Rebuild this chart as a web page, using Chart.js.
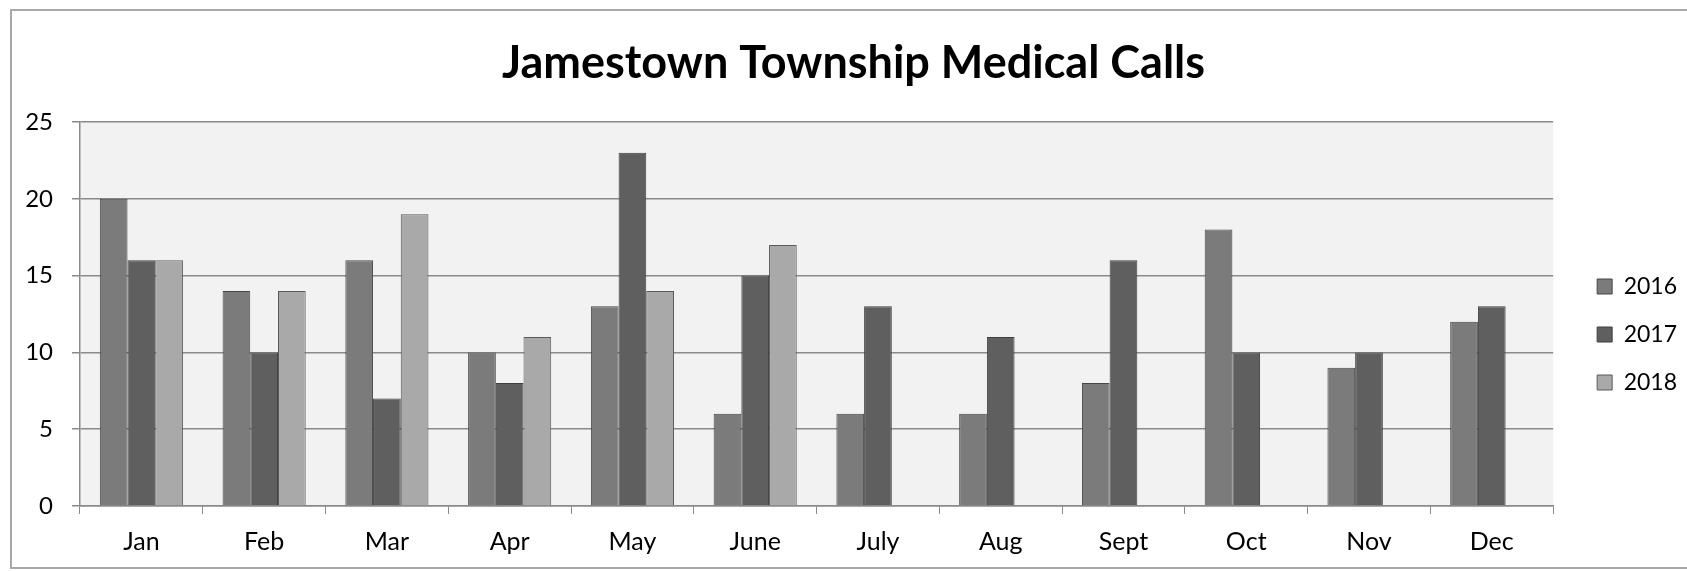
<!DOCTYPE html>
<html>
<head>
<meta charset="utf-8">
<script src="https://cdn.jsdelivr.net/npm/chart.js@4"></script>
<style>
  html, body { margin: 0; padding: 0; background: #ffffff; }
  #wrap { width: 1687px; height: 571px; position: relative; }
</style>
</head>
<body>
<div id="wrap"><canvas id="c"></canvas></div>
<script>
const chartTitle = "Jamestown Township Medical Calls";
const months = ["Jan", "Feb", "Mar", "Apr", "May", "June", "July", "Aug", "Sept", "Oct", "Nov", "Dec"];
const seriesNames = ["2016", "2017", "2018"];
const calls2016 = [20, 14, 16, 10, 13, 6, 6, 6, 8, 18, 9, 12];
const calls2017 = [16, 10, 7, 8, 23, 15, 13, 11, 16, 10, 10, 13];
const calls2018 = [16, 14, 19, 11, 14, 17, null, null, null, null, null, null];
const yTicks = [0, 5, 10, 15, 20, 25];

const FONT = "Lato, 'Open Sans', sans-serif";

const frameAndBg = {
  id: 'frameAndBg',
  beforeDraw(chart) {
    const {ctx, chartArea: a} = chart;
    ctx.save();
    ctx.fillStyle = '#f2f2f2';
    ctx.fillRect(a.left, a.top, a.right - a.left, a.bottom - a.top);
    ctx.strokeStyle = '#a8a8a8';
    ctx.lineWidth = 2;
    ctx.beginPath();
    ctx.moveTo(1700, 10);
    ctx.lineTo(11, 10);
    ctx.lineTo(11, 568);
    ctx.lineTo(1700, 568);
    ctx.stroke();
    ctx.restore();
  }
};

new Chart(document.getElementById('c'), {
  type: 'bar',
  data: {
    labels: months,
    datasets: [
      { label: seriesNames[0], data: calls2016, backgroundColor: '#7b7b7b', borderColor: '#474747', borderWidth: 1 },
      { label: seriesNames[1], data: calls2017, backgroundColor: '#5f5f5f', borderColor: '#3f3f3f', borderWidth: 1 },
      { label: seriesNames[2], data: calls2018, backgroundColor: '#a9a9a9', borderColor: '#5a5a5a', borderWidth: 1 }
    ]
  },
  options: {
    responsive: true,
    maintainAspectRatio: false,
    animation: false,
    devicePixelRatio: 1,
    layout: { padding: { left: 20, right: 0, top: 0, bottom: 0 } },
    datasets: { bar: { categoryPercentage: 0.677, barPercentage: 1.0 } },
    plugins: {
      title: {
        display: true,
        text: chartTitle,
        color: '#000',
        font: { family: FONT, size: 45, weight: 'bold', lineHeight: 1.2 },
        padding: { top: 36, bottom: 32 }
      },
      legend: {
        display: true,
        position: 'right',
        maxWidth: 116,
        title: { display: true, text: ' ', font: { size: 10, lineHeight: 1.2 }, padding: { top: 43, bottom: 43 } },
        labels: {
          boxWidth: 15, boxHeight: 15,
          padding: 25,
          color: '#000',
          font: { family: FONT, size: 23 }
        }
      },
      tooltip: { enabled: false }
    },
    scales: {
      x: {
        grid: { display: true, drawOnChartArea: false, drawTicks: true, tickLength: 8, color: '#8a8a8a', offset: true },
        border: { display: true, color: '#8a8a8a', width: 1.5 },
        ticks: { color: '#000', font: { family: FONT, size: 25 }, padding: 13, maxRotation: 0 },
        afterFit(scale) { scale.height = 65; }
      },
      y: {
        min: 0, max: 25,
        afterBuildTicks(scale) { scale.ticks = yTicks.map(v => ({ value: v })); },
        grid: { color: '#8a8a8a', lineWidth: 1.5, tickLength: 8 },
        border: { display: true, color: '#8a8a8a', width: 1.5 },
        ticks: { color: '#000', font: { family: FONT, size: 24 }, padding: 19 },
        afterFit(scale) { scale.width = 60; }
      },
      y2: {
        type: 'linear',
        position: 'right',
        display: true,
        grid: { display: false, drawTicks: false },
        border: { display: false },
        ticks: { display: false },
        afterFit(scale) { scale.width = 19; }
      }
    }
  },
  plugins: [frameAndBg]
});
</script>
</body>
</html>
